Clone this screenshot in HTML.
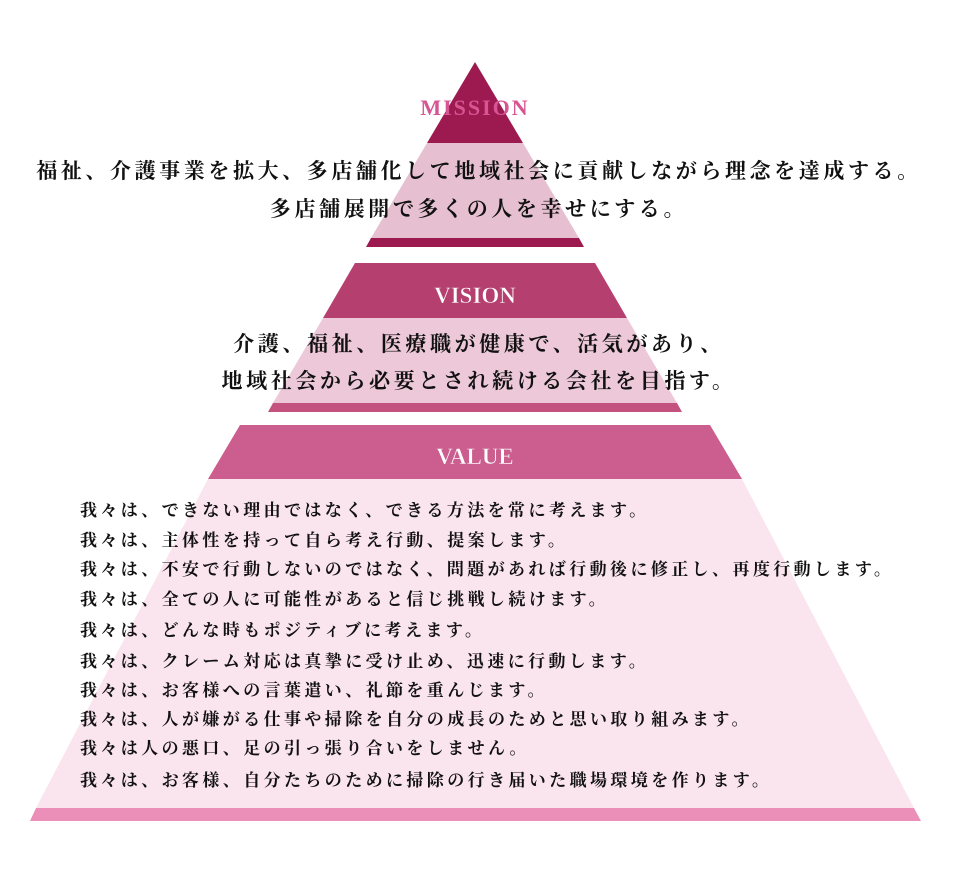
<!DOCTYPE html>
<html><head><meta charset="utf-8"><style>
html,body{margin:0;padding:0;background:#fff;width:955px;height:891px;overflow:hidden}
svg{display:block}
.jp{font-family:"Liberation Serif","Noto Serif CJK JP","Noto Serif CJK SC",serif;fill:#111;font-weight:bold}
.lbl{font-family:"Liberation Serif",serif;font-weight:bold}
</style></head><body>
<svg width="955" height="891" viewBox="0 0 955 891" xmlns="http://www.w3.org/2000/svg">
<!-- MISSION -->
<polygon points="475,62 523,143 427,143" fill="#9c1a50"/>
<polygon points="427,143 523,143 579,238 371,238" fill="#e6c0d1"/>
<polygon points="371,238 579,238 584,247 366,247" fill="#9c1a50"/>
<!-- VISION -->
<polygon points="355,263 595,263 627,318 323,318" fill="#b5406f"/>
<polygon points="323,318 627,318 677,403 273,403" fill="#ecc8d8"/>
<polygon points="273,403 677,403 682,412 268,412" fill="#c4527f"/>
<!-- VALUE -->
<polygon points="240,425 710,425 742,479 208,479" fill="#cb5e8e"/>
<polygon points="208,479 742,479 914,808 36,808" fill="#fae4ee"/>
<polygon points="36,808 914,808 921,821 30,821" fill="#ec8fb8"/>

<text x="475" y="115" text-anchor="middle" class="lbl" font-size="22" fill="#d65592" letter-spacing="2">MISSION</text>
<text x="475" y="303" text-anchor="middle" class="lbl" font-size="23" fill="#fff" stroke="#b5406f" stroke-width="0.5">VISION</text>
<text x="475" y="464" text-anchor="middle" class="lbl" font-size="23" fill="#fff" stroke="#cb5e8e" stroke-width="0.5">VALUE</text>

<text class="jp" font-size="21" letter-spacing="3.6" text-anchor="middle" x="479" y="178">福祉、介護事業を拡大、多店舗化して地域社会に貢献しながら理念を達成する。</text>
<text class="jp" font-size="21" letter-spacing="3.6" text-anchor="middle" x="479" y="216">多店舗展開で多くの人を幸せにする。</text>

<text class="jp" font-size="21" letter-spacing="3.6" text-anchor="middle" x="479" y="351">介護、福祉、医療職が健康で、活気があり、</text>
<text class="jp" font-size="21" letter-spacing="3.6" text-anchor="middle" x="479" y="388">地域社会から必要とされ続ける会社を目指す。</text>

<g class="jp" font-size="17" letter-spacing="3.4">
<text x="80" y="516">我々は、できない理由ではなく、できる方法を常に考えます。</text>
<text x="80" y="546">我々は、主体性を持って自ら考え行動、提案します。</text>
<text x="80" y="575">我々は、不安で行動しないのではなく、問題があれば行動後に修正し、再度行動します。</text>
<text x="80" y="605">我々は、全ての人に可能性があると信じ挑戦し続けます。</text>
<text x="80" y="636">我々は、どんな時もポジティブに考えます。</text>
<text x="80" y="667">我々は、クレーム対応は真摯に受け止め、迅速に行動します。</text>
<text x="80" y="696">我々は、お客様への言葉遣い、礼節を重んじます。</text>
<text x="80" y="725">我々は、人が嫌がる仕事や掃除を自分の成長のためと思い取り組みます。</text>
<text x="80" y="754">我々は人の悪口、足の引っ張り合いをしません。</text>
<text x="80" y="786">我々は、お客様、自分たちのために掃除の行き届いた職場環境を作ります。</text>
</g>
</svg>
</body></html>
